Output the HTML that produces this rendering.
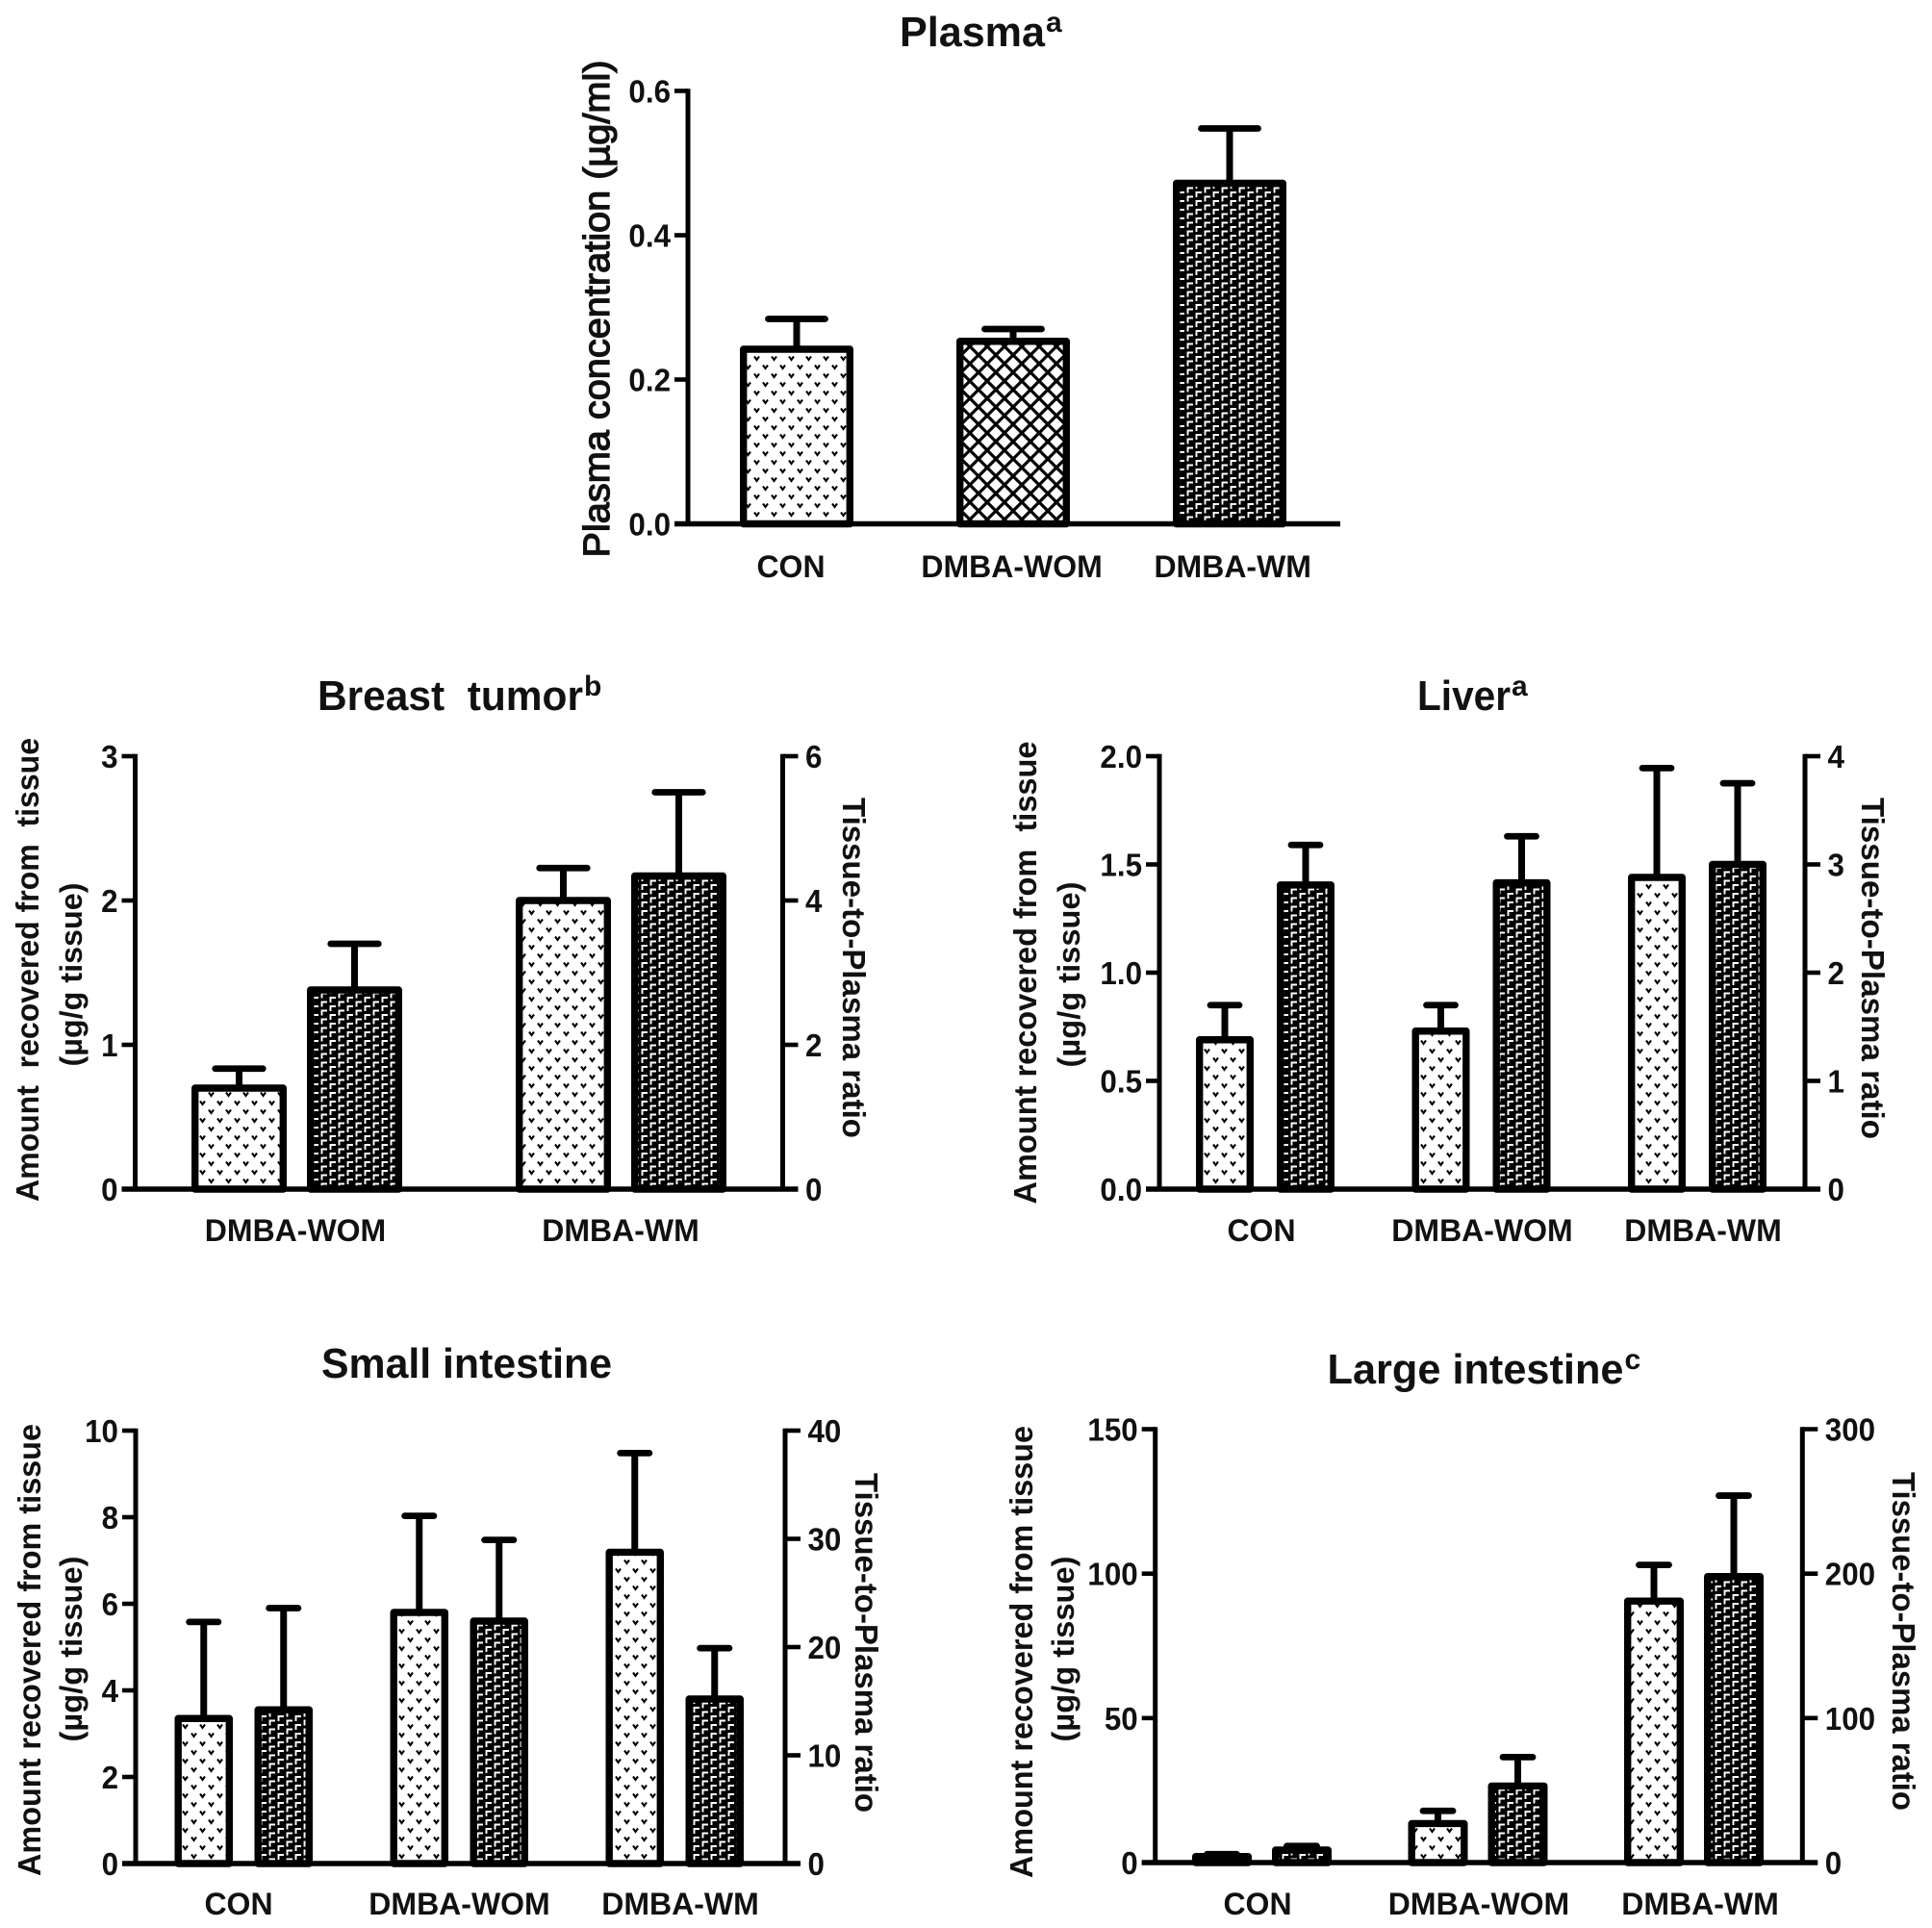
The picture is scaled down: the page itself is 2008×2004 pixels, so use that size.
<!DOCTYPE html>
<html lang="en">
<head>
<meta charset="utf-8">
<title>Plasma and tissue concentration bar charts</title>
<style>
html,body{margin:0;padding:0;background:#fff;}
svg{display:block;}
text{font-family:"Liberation Sans",Arial,sans-serif;font-weight:bold;fill:#111;white-space:pre;}
</style>
</head>
<body>
<svg id="figure" xmlns="http://www.w3.org/2000/svg" width="2008" height="2004" viewBox="0 0 2008 2004">
  <defs>
    <pattern id="pat-dots" patternUnits="userSpaceOnUse" width="18" height="18">
      <rect width="18" height="18" fill="#fff"/>
      <path d="M1 1.5 L3.5 5 L6 1.5 M10 10.5 L12.5 14 L15 10.5" fill="none" stroke="#000" stroke-width="2.1"/>
    </pattern>
    <pattern id="pat-cross" patternUnits="userSpaceOnUse" width="18" height="18">
      <rect width="18" height="18" fill="#fff"/>
      <path d="M-2 -2 L20 20 M20 -2 L-2 20" fill="none" stroke="#000" stroke-width="3.2"/>
    </pattern>
    <pattern id="pat-dark" patternUnits="userSpaceOnUse" width="18" height="9">
      <rect width="18" height="9" fill="#000"/>
      <path d="M1.5 7 V2 H7 M10.5 2.5 V-2.5 H16 M10.5 11.5 V6.5 H16" fill="none" stroke="#fff" stroke-width="1.9"/>
    </pattern>
  </defs>
  <g id="chart-root"></g>
</svg>
<script>
// ---- Plasma ----
const plasmaCategories = ['CON', 'DMBA-WOM', 'DMBA-WM'];
const plasmaTicks = ['0.0', '0.2', '0.4', '0.6'];
const plasmaValues = [0.242, 0.253, 0.472];
const plasmaUpper = [0.284, 0.270, 0.548];

// ---- Breast tumor ----
const breastCategories = ['DMBA-WOM', 'DMBA-WM'];
const breastLeftTicks = ['0', '1', '2', '3'];
const breastRightTicks = ['0', '2', '4', '6'];
const breastAmount = [0.70, 2.00];
const breastAmountUpper = [0.835, 2.225];
const breastRatio = [2.76, 4.34];
const breastRatioUpper = [3.40, 5.50];

// ---- Liver ----
const liverCategories = ['CON', 'DMBA-WOM', 'DMBA-WM'];
const liverLeftTicks = ['0.0', '0.5', '1.0', '1.5', '2.0'];
const liverRightTicks = ['0', '1', '2', '3', '4'];
const liverAmount = [0.69, 0.73, 1.44];
const liverAmountUpper = [0.85, 0.85, 1.945];
const liverRatio = [2.81, 2.83, 3.00];
const liverRatioUpper = [3.18, 3.26, 3.75];

// ---- Small intestine ----
const smallCategories = ['CON', 'DMBA-WOM', 'DMBA-WM'];
const smallLeftTicks = ['0', '2', '4', '6', '8', '10'];
const smallRightTicks = ['0', '10', '20', '30', '40'];
const smallAmount = [3.35, 5.80, 7.19];
const smallAmountUpper = [5.58, 8.03, 9.48];
const smallRatio = [14.2, 22.4, 15.2];
const smallRatioUpper = [23.6, 29.9, 19.9];

// ---- Large intestine ----
const largeCategories = ['CON', 'DMBA-WOM', 'DMBA-WM'];
const largeLeftTicks = ['0', '50', '100', '150'];
const largeRightTicks = ['0', '100', '200', '300'];
const largeAmount = [2.1, 13.5, 90.5];
const largeAmountUpper = [2.9, 17.9, 103];
const largeRatio = [8.7, 53, 198];
const largeRatioUpper = [11.5, 73, 254];

const NS = 'http://www.w3.org/2000/svg';
const root = document.getElementById('chart-root');

function node(tag, name, parent) {
  const el = document.createElementNS(NS, tag);
  
  
  parent.appendChild(el);
  return el;
}

function line(parent, name, x1, y1, x2, y2, w, cap) {
  const el = node('line', name, parent);
  el.setAttribute('x1', x1);
  el.setAttribute('y1', y1);
  el.setAttribute('x2', x2);
  el.setAttribute('y2', y2);
  el.setAttribute('stroke', '#000');
  el.setAttribute('stroke-width', w);
  el.setAttribute('stroke-linecap', cap || 'butt');
  return el;
}

function label(parent, name, str, x, y, size, anchor, length) {
  const el = node('text', name, parent);
  el.textContent = str;
  el.setAttribute('x', x);
  el.setAttribute('y', y);
  el.setAttribute('font-size', size);
  el.setAttribute('text-anchor', anchor || 'start');
  if (length) {
    el.setAttribute('textLength', length);
    el.setAttribute('lengthAdjust', 'spacingAndGlyphs');
  }
  return el;
}

function rotated(parent, name, str, x, y, size, angle, length, medium) {
  const el = label(parent, name, str, x, y, size, 'middle', length);
  el.setAttribute('transform', 'rotate(' + angle + ' ' + x + ' ' + y + ')');
  if (medium) {
    el.setAttribute('style', 'font-weight:normal;stroke:#111;stroke-width:1.3px;');
  }
  return el;
}

function tickWidth(str) {
  let w = 0;
  for (const c of str) w += (c === '.') ? 0.278 : 0.556;
  return w * 33 * 0.95;
}

function drawTicks(g, prefix, ticks, axisX, dir, scale) {
  ticks.forEach(function (t) {
    const y = scale(parseFloat(t));
    const tickEnd = axisX + dir * (dir < 0 ? 14 : 16);
    line(g, prefix + '-tick-' + t, axisX, y, tickEnd, y, 4.6);
    const lx = dir < 0 ? axisX - 18 : axisX + 23.5;
    label(g, prefix + '-tick-label-' + t, t, lx, y + 12, 33, dir < 0 ? 'end' : 'start', tickWidth(t));
  });
}

function drawBar(g, name, xLeft, width, top, upper, bottom, fill) {
  const cx = xLeft + width / 2;
  const sw = 7.4;
  line(g, name + '-error-stem', cx, upper, cx, top, 7);
  line(g, name + '-error-cap', cx - width / 4, upper, cx + width / 4, upper, 6.8, 'round');
  const r = node('rect', name, g);
  r.setAttribute('x', xLeft + sw / 2);
  r.setAttribute('y', top);
  r.setAttribute('width', width - sw);
  r.setAttribute('height', Math.max(bottom - top, 0));
  r.setAttribute('fill', 'url(#' + fill + ')');
  r.setAttribute('stroke', '#000');
  r.setAttribute('stroke-width', sw);
  r.setAttribute('stroke-linejoin', 'round');
}

function drawTitle(g, p) {
  label(g, 'chart-title', p.title, p.titleX, p.titleY, 44, 'start', p.titleW);
  if (p.sup) {
    label(g, 'title-superscript', p.sup, p.titleX + p.titleW + 1, p.titleY - 15, 30, 'start');
  }
}

function drawPanel(p) {
  const g = node('g', p.id + '-panel', root);
  const leftMax = parseFloat(p.leftTicks[p.leftTicks.length - 1]);
  const yL = function (v) { return p.bottom - (v / leftMax) * (p.bottom - p.top); };
  let yR = yL;
  if (p.rightTicks) {
    const rightMax = parseFloat(p.rightTicks[p.rightTicks.length - 1]);
    yR = function (v) { return p.bottom - (v / rightMax) * (p.bottom - p.top); };
  }

  drawTitle(g, p);

  p.categories.forEach(function (cat, i) {
    const gx = p.firstX + i * p.groupPitch;
    if (p.ratio) {
      drawBar(g, p.id + '-amount-bar-' + cat, gx, p.barW, yL(p.amount[i]), yL(p.amountUpper[i]), p.bottom, 'pat-dots');
      drawBar(g, p.id + '-ratio-bar-' + cat, gx + p.barOffset, p.barW, yR(p.ratio[i]), yR(p.ratioUpper[i]), p.bottom, 'pat-dark');
    } else {
      drawBar(g, p.id + '-bar-' + cat, gx, p.barW, yL(p.amount[i]), yL(p.amountUpper[i]), p.bottom, p.fills[i]);
    }
    label(g, p.id + '-category-label-' + cat, cat, p.labelX + i * p.labelPitch, p.labelY, 32, 'middle');
  });

  line(g, 'left-y-axis', p.axisL, p.top - 2.3, p.axisL, p.bottom, 5);
  drawTicks(g, 'left-y', p.leftTicks, p.axisL, -1, yL);
  if (p.rightTicks) {
    line(g, 'right-y-axis', p.axisR, p.top - 2.3, p.axisR, p.bottom, 5);
    drawTicks(g, 'right-y', p.rightTicks, p.axisR, 1, yR);
  }
  line(g, 'x-axis', p.axisL - 14, p.bottom, p.xEnd, p.bottom, 5.6);

  p.texts.forEach(function (t) {
    rotated(g, t[0], t[1], t[2], t[3], t[4], t[5], t[6], t[7]);
  });
}

drawPanel({
  id: 'plasma', title: 'Plasma', sup: 'a', titleX: 935, titleY: 48, titleW: 151,
  categories: plasmaCategories, leftTicks: plasmaTicks,
  amount: plasmaValues, amountUpper: plasmaUpper,
  fills: ['pat-dots', 'pat-cross', 'pat-dark'],
  top: 94.5, bottom: 544.5, axisL: 715, xEnd: 1393,
  firstX: 769, groupPitch: 225, barW: 118,
  labelX: 822, labelPitch: 229.6, labelY: 600,
  texts: [['y-axis-title', 'Plasma concentration (µg/ml)', 633, 321, 38, -90, 517, true]]
});

drawPanel({
  id: 'breast', title: 'Breast  tumor', sup: 'b', titleX: 330, titleY: 738, titleW: 276,
  categories: breastCategories, leftTicks: breastLeftTicks, rightTicks: breastRightTicks,
  amount: breastAmount, amountUpper: breastAmountUpper,
  ratio: breastRatio, ratioUpper: breastRatioUpper,
  top: 786, bottom: 1236, axisL: 140.5, axisR: 813.5, xEnd: 829.5,
  firstX: 199, groupPitch: 337, barOffset: 120, barW: 99,
  labelX: 307, labelPitch: 338, labelY: 1290,
  texts: [
    ['y-axis-title', 'Amount  recovered from  tissue', 40, 1008, 33, -90, 482],
    ['y-axis-unit', '(µg/g tissue)', 85, 1013, 32, -90, 191],
    ['right-axis-title', 'Tissue-to-Plasma ratio', 876, 1006, 33, 90, 354]
  ]
});

drawPanel({
  id: 'liver', title: 'Liver', sup: 'a', titleX: 1473, titleY: 738, titleW: 97,
  categories: liverCategories, leftTicks: liverLeftTicks, rightTicks: liverRightTicks,
  amount: liverAmount, amountUpper: liverAmountUpper,
  ratio: liverRatio, ratioUpper: liverRatioUpper,
  top: 786, bottom: 1236, axisL: 1205, axisR: 1876, xEnd: 1892,
  firstX: 1243, groupPitch: 224.5, barOffset: 84, barW: 60,
  labelX: 1311, labelPitch: 229.5, labelY: 1290,
  texts: [
    ['y-axis-title', 'Amount recovered from  tissue', 1077, 1011, 33, -90, 481],
    ['y-axis-unit', '(µg/g tissue)', 1122, 1013, 32, -90, 193],
    ['right-axis-title', 'Tissue-to-Plasma ratio', 1935, 1006.5, 33, 90, 355]
  ]
});

drawPanel({
  id: 'small-intestine', title: 'Small intestine', titleX: 334, titleY: 1432, titleW: 302,
  categories: smallCategories, leftTicks: smallLeftTicks, rightTicks: smallRightTicks,
  amount: smallAmount, amountUpper: smallAmountUpper,
  ratio: smallRatio, ratioUpper: smallRatioUpper,
  top: 1487, bottom: 1937, axisL: 141, axisR: 816, xEnd: 832,
  firstX: 181.5, groupPitch: 224, barOffset: 83, barW: 60.5,
  labelX: 248, labelPitch: 229.5, labelY: 1990,
  texts: [
    ['y-axis-title', 'Amount recovered from tissue', 42, 1715, 33, -90, 470],
    ['y-axis-unit', '(µg/g tissue)', 85, 1714, 32, -90, 193],
    ['right-axis-title', 'Tissue-to-Plasma ratio', 889, 1707.5, 33, 90, 353]
  ]
});

drawPanel({
  id: 'large-intestine', title: 'Large intestine', sup: 'c', titleX: 1379.5, titleY: 1438, titleW: 308,
  categories: largeCategories, leftTicks: largeLeftTicks, rightTicks: largeRightTicks,
  amount: largeAmount, amountUpper: largeAmountUpper,
  ratio: largeRatio, ratioUpper: largeRatioUpper,
  top: 1485.5, bottom: 1936, axisL: 1200.7, axisR: 1873.3, xEnd: 1889,
  firstX: 1239, groupPitch: 224.5, barOffset: 83, barW: 62,
  labelX: 1307, labelPitch: 230, labelY: 1990,
  texts: [
    ['y-axis-title', 'Amount recovered from tissue', 1073, 1717, 33, -90, 470],
    ['y-axis-unit', '(µg/g tissue)', 1116, 1714, 32, -90, 193],
    ['right-axis-title', 'Tissue-to-Plasma ratio', 1967, 1706, 33, 90, 352]
  ]
});
</script>
</body>
</html>
